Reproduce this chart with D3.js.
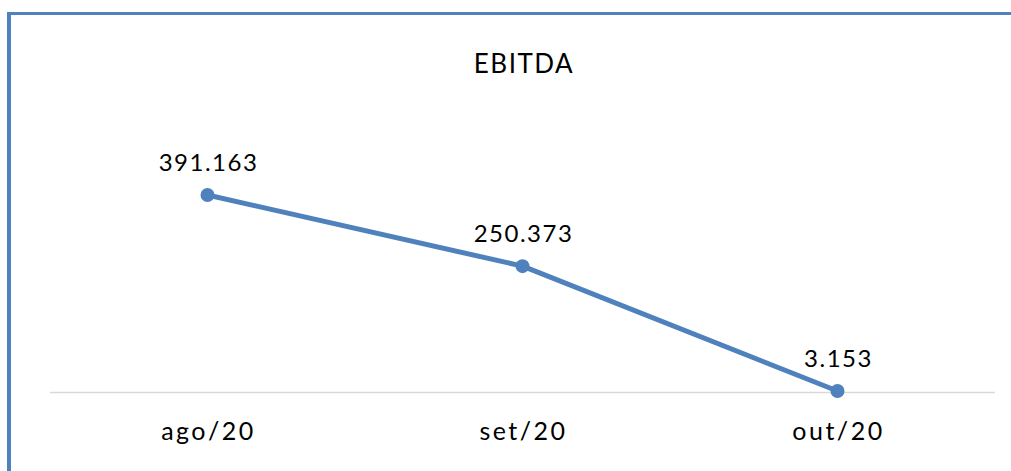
<!DOCTYPE html>
<html>
<head>
<meta charset="utf-8">
<style>
body { margin: 0; background: #fff; }
text { font-family: "Lato", "Open Sans", sans-serif; fill: #000; }
</style>
<script src="https://d3js.org/d3.v7.min.js"></script>
</head>
<body>
<svg width="1011" height="471"></svg>
<script>

var months = ["ago/20", "set/20", "out/20"];
var ebitda = [391163, 250373, 3153];

var svg = d3.select("svg"),
    blue = "#4f81bd";

// frame (only top and left visible)
svg.append("line").attr("x1", 9).attr("x2", 1011).attr("y1", 13.5).attr("y2", 13.5)
    .attr("stroke", blue).attr("stroke-width", 3);
svg.append("line").attr("x1", 9).attr("x2", 9).attr("y1", 12).attr("y2", 471)
    .attr("stroke", blue).attr("stroke-width", 4);

svg.append("text").attr("x", 524).attr("y", 73).attr("text-anchor", "middle")
    .style("font-size", "26px").style("letter-spacing", "1.5px").text("EBITDA");

var x = d3.scaleBand().domain(months).range([50, 995]);
var y = d3.scaleLinear().domain([0, 450000]).range([392.6, 165.3]);

var fmt = d3.formatLocale({decimal: ",", thousands: ".", grouping: [3], currency: ["R$", ""]}).format(",d");

svg.append("line").attr("x1", 50).attr("x2", 995).attr("y1", y(0)).attr("y2", y(0))
    .attr("stroke", "#d9d9d9").attr("stroke-width", 1.5);

var data = months.map(function(m, i) { return {m: m, v: ebitda[i]}; });

svg.append("path").datum(data)
    .attr("fill", "none").attr("stroke", blue).attr("stroke-width", 5)
    .attr("stroke-linejoin", "round")
    .attr("d", d3.line().x(function(d) { return x(d.m) + x.bandwidth() / 2; })
                        .y(function(d) { return y(d.v); }));

svg.selectAll(".dot").data(data).enter().append("circle")
    .attr("cx", function(d) { return x(d.m) + x.bandwidth() / 2; })
    .attr("cy", function(d) { return y(d.v); })
    .attr("r", 7).attr("fill", blue);

svg.selectAll(".lbl").data(data).enter().append("text")
    .attr("x", function(d) { return x(d.m) + x.bandwidth() / 2 + 1; })
    .attr("y", function(d) { return y(d.v) - 24; })
    .attr("text-anchor", "middle").style("font-size", "24px").style("letter-spacing", "1.5px")
    .text(function(d) { return fmt(d.v); });

svg.selectAll(".tick-l").data(months).enter().append("text")
    .attr("x", function(d) { return x(d) + x.bandwidth() / 2 + 1; })
    .attr("y", 440)
    .attr("text-anchor", "middle").style("font-size", "25px").style("letter-spacing", "2.5px")
    .text(function(d) { return d; });

</script>
</body>
</html>
